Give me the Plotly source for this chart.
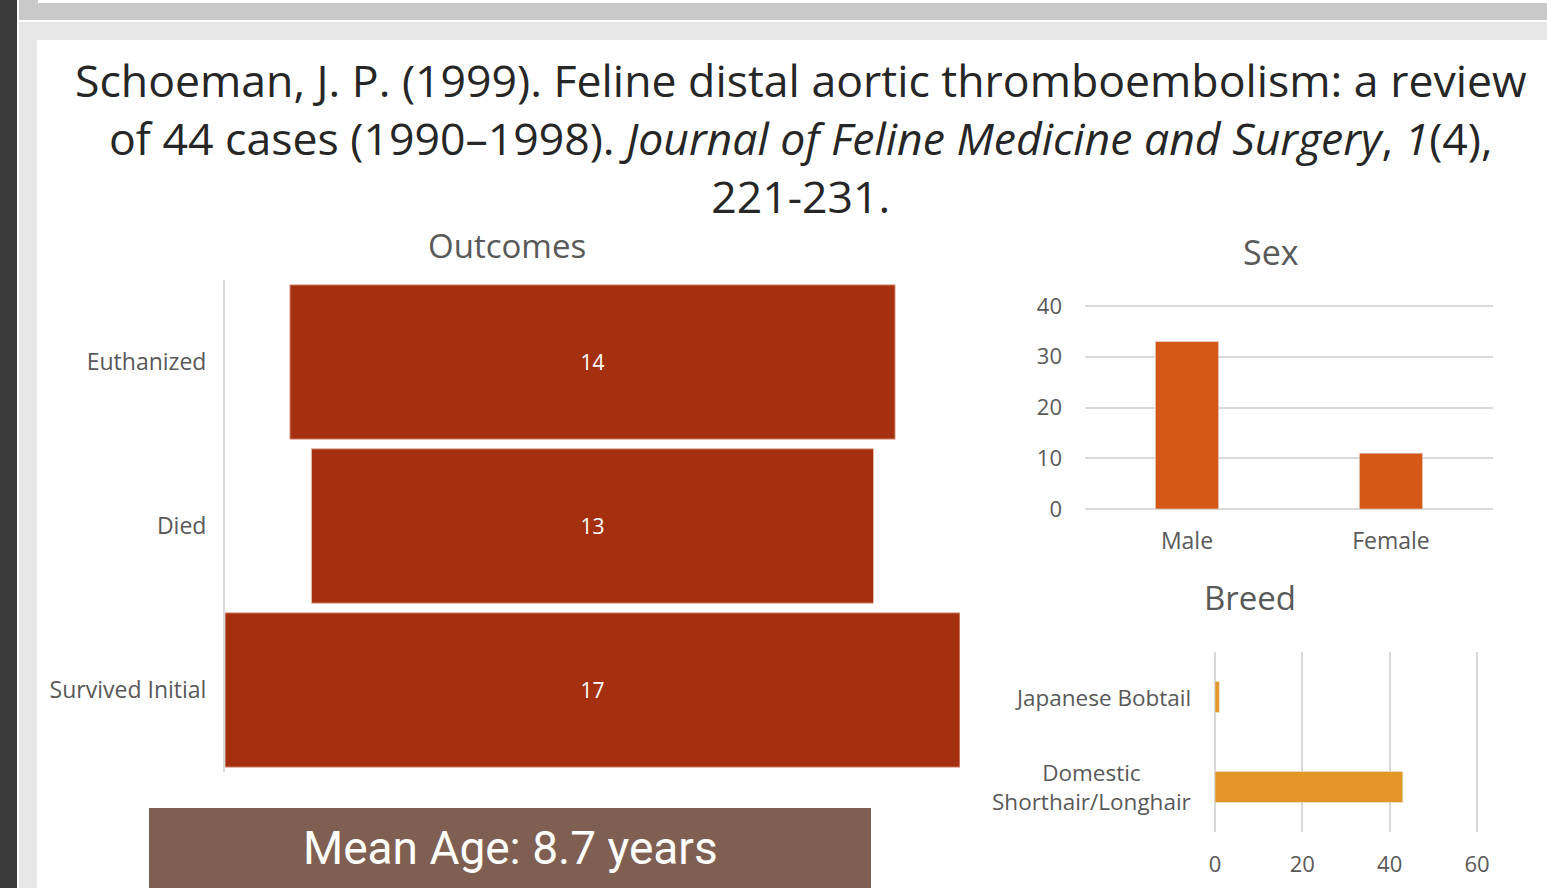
import plotly.graph_objects as go

W, H = 1547, 888

outcome_labels = ["Euthanized", "Died", "Survived Initial"]
outcome_values = [14, 13, 17]

sex_labels = ["Male", "Female"]
sex_values = [33, 11]

breed_labels = ["Domestic<br>Shorthair/Longhair", "Japanese Bobtail"]
breed_values = [43, 1]

sex_ticks = [0, 10, 20, 30, 40]
breed_ticks = [0, 20, 40, 60]

mean_age_text = "Mean Age: 8.7 years"
title_text = ("Schoeman, J. P. (1999). Feline distal aortic thromboembolism: a review<br>"
              "of 44 cases (1990–1998). <i>Journal of Feline Medicine and Surgery</i>, <i>1</i>(4),<br>"
              "221-231.")


def px(x):
    return x / W


def py(y):
    return 1 - y / H


GRAY_TXT = "#595959"
LABEL_FONT = "Open Sans, Noto Sans, sans-serif"

fig = go.Figure()

fig.add_trace(go.Funnel(
    y=outcome_labels, x=outcome_values,
    xaxis="x", yaxis="y",
    marker=dict(color="#A5300F", line=dict(color="#E8B7A8", width=1)),
    connector=dict(visible=False),
    textinfo="value", textposition="inside", insidetextanchor="middle",
    insidetextfont=dict(color="white", size=21, family=LABEL_FONT),
    showlegend=False,
))

fig.add_trace(go.Bar(
    x=sex_labels, y=sex_values, xaxis="x2", yaxis="y2", width=0.31,
    marker=dict(color="#D55816"), showlegend=False,
))

fig.add_trace(go.Bar(
    y=breed_labels, x=breed_values, orientation="h", xaxis="x3", yaxis="y3", width=0.345,
    marker=dict(color="#E29627"), showlegend=False,
))

half = max(outcome_values) / 2


def rect(x0, x1, y0, y1, color, layer="below"):
    return dict(type="rect", xref="paper", yref="paper",
                x0=px(x0), x1=px(x1), y0=py(y1), y1=py(y0),
                fillcolor=color, line=dict(width=0), layer=layer)


shapes = [
    rect(0, 1547, 0, 888, "#e6e6e6"),
    rect(19, 1547, 0, 20, "#c8c8c8"),
    rect(38, 1547, 0, 3, "white"),
    rect(19, 1547, 20, 22, "white"),
    rect(0, 17, 0, 888, "#3b3b3b"),
    rect(17, 19, 0, 888, "white"),
    rect(37, 1547, 40, 888, "white"),
    rect(149, 871, 808, 888, "#7F5F52", layer="above"),
]

annotations = [
    dict(text=title_text, xref="paper", yref="paper", x=px(801), y=py(138),
         xanchor="center", yanchor="middle", showarrow=False, align="center",
         font=dict(family="Open Sans, sans-serif", size=44.6, color="#262626")),
    dict(text="Outcomes", xref="paper", yref="paper", x=px(507), y=py(245),
         xanchor="center", yanchor="middle", showarrow=False,
         font=dict(family=LABEL_FONT, size=33, color=GRAY_TXT)),
    dict(text="Sex", xref="paper", yref="paper", x=px(1271), y=py(252),
         xanchor="center", yanchor="middle", showarrow=False,
         font=dict(family=LABEL_FONT, size=34, color=GRAY_TXT)),
    dict(text="Breed", xref="paper", yref="paper", x=px(1250), y=py(597),
         xanchor="center", yanchor="middle", showarrow=False,
         font=dict(family=LABEL_FONT, size=33, color=GRAY_TXT)),
    dict(text=mean_age_text, xref="paper", yref="paper", x=px(510), y=py(848),
         xanchor="center", yanchor="middle", showarrow=False,
         font=dict(family="Liberation Sans Narrow, Roboto, sans-serif", size=46, color="white")),
]

for lab in breed_labels:
    annotations.append(dict(
        text=lab, xref="paper", yref="y3", x=px(1193), y=lab,
        xanchor="right", yanchor="middle", showarrow=False, align="center",
        font=dict(family=LABEL_FONT, size=22.5, color=GRAY_TXT)))

fig.update_layout(
    width=W, height=H, autosize=False,
    margin=dict(l=0, r=0, t=0, b=0, pad=0, autoexpand=False),
    paper_bgcolor="white", plot_bgcolor="rgba(0,0,0,0)",
    shapes=shapes, annotations=annotations,
    funnelgap=0.058,
    xaxis=dict(domain=[px(225), px(960)], range=[-half, half], visible=False,
               fixedrange=True, automargin=False),
    yaxis=dict(domain=[py(772), py(280)], autorange="reversed", showline=True,
               linecolor="#d9d9d9", linewidth=2, showgrid=False, ticks="",
               ticklabelstandoff=12, automargin=False,
               tickfont=dict(family=LABEL_FONT, size=23, color=GRAY_TXT)),
    xaxis2=dict(domain=[px(1085), px(1493)], anchor="y2", showgrid=False, showline=False,
                ticks="", ticklabelstandoff=16, automargin=False,
                tickfont=dict(family=LABEL_FONT, size=23, color=GRAY_TXT)),
    yaxis2=dict(domain=[py(509), py(304.5)], anchor="x2", range=[0, 40.3], tickvals=sex_ticks,
                showgrid=True, gridcolor="#d9d9d9", gridwidth=1.5, zeroline=True,
                zerolinecolor="#d9d9d9", zerolinewidth=1.5, ticks="", ticklabelstandoff=22,
                automargin=False,
                tickfont=dict(family=LABEL_FONT, size=22, color=GRAY_TXT)),
    xaxis3=dict(domain=[px(1215), px(1478.3)], anchor="y3", range=[0, 60.3], tickvals=breed_ticks,
                showgrid=True, gridcolor="#d9d9d9", gridwidth=1.5, zeroline=True,
                zerolinecolor="#d9d9d9", zerolinewidth=1.5, ticks="", ticklabelstandoff=17,
                automargin=False,
                tickfont=dict(family=LABEL_FONT, size=22, color=GRAY_TXT)),
    yaxis3=dict(domain=[py(832), py(652)], anchor="x3", showgrid=False, ticks="",
                automargin=False,
                categoryorder="array", categoryarray=breed_labels, showticklabels=False),
)

post = """
document.documentElement.style.margin='0';
document.body.style.margin='0';
document.body.style.overflow='hidden';
var d=document.getElementById('{plot_id}');
d.style.position='absolute';d.style.left='0px';d.style.top='0px';
"""

fig.write_html("out.html", config={"responsive": False, "displayModeBar": False},
               post_script=post)
